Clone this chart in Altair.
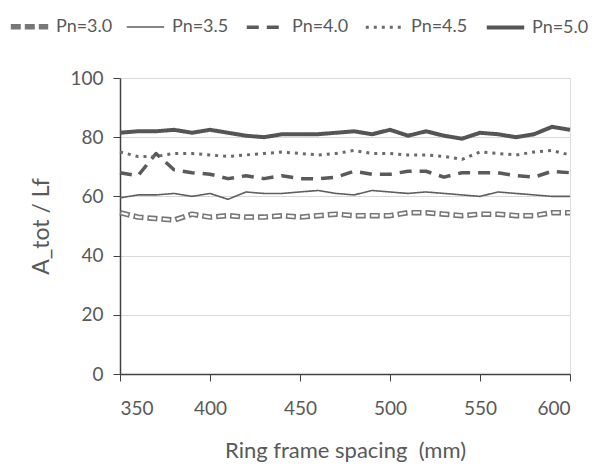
import altair as alt
import pandas as pd

spacing = list(range(350, 601, 10))
pn30 = [54.5, 53, 52.5, 52, 54, 53, 53.5, 53, 53, 53.5, 53, 53.5, 54, 53.5, 53.5, 53.5, 54.5, 54.5, 54, 53.5, 54, 54, 53.5, 53.5, 54.5, 54.5]
pn35 = [59.5, 60.5, 60.5, 61, 60, 61, 59, 61.5, 61, 61, 61.5, 62, 61, 60.5, 62, 61.5, 61, 61.5, 61, 60.5, 60, 61.5, 61, 60.5, 60, 60]
pn40 = [68, 67, 74.5, 69, 68, 67.5, 66, 67, 66, 67, 66, 66, 66.5, 68.5, 67.5, 67.5, 68.5, 68.5, 66.5, 68, 68, 68, 67, 66.5, 68.5, 68]
pn45 = [75, 73.5, 73.5, 74.5, 74.5, 74, 73.5, 74, 74.5, 75, 74.5, 74, 74.5, 75.5, 74.5, 74.5, 74, 74, 73.5, 72.5, 75, 74.5, 74, 75, 75.5, 74]
pn50 = [81.5, 82, 82, 82.5, 81.5, 82.5, 81.5, 80.5, 80, 81, 81, 81, 81.5, 82, 81, 82.5, 80.5, 82, 80.5, 79.5, 81.5, 81, 80, 81, 83.5, 82.5]

series_names = ["Pn=3.0", "Pn=3.5", "Pn=4.0", "Pn=4.5", "Pn=5.0"]
series_values = [pn30, pn35, pn40, pn45, pn50]

rows = []
for name, vals in zip(series_names, series_values):
    for x, v in zip(spacing, vals):
        rows.append({"spacing": x, "value": v, "series": name})
df = pd.DataFrame(rows)

font = "Lato"
txt = "#595959"

x_enc = alt.X("spacing:Q", scale=alt.Scale(domain=[350, 600], nice=False),
              axis=alt.Axis(values=[350, 400, 450, 500, 550, 600], title="Ring frame spacing\u00a0 (mm)",
                            grid=False, domainColor="#404040", domainWidth=1.5, tickColor="#404040",
                            tickSize=7, labelFontSize=19, labelColor=txt, labelFont=font, labelPadding=18,
                            titleFont=font, titleFontSize=22, titleColor=txt, titleFontWeight="normal",
                            titlePadding=22))
y_enc = alt.Y("value:Q", scale=alt.Scale(domain=[0, 100], nice=False),
              axis=alt.Axis(values=[0, 20, 40, 60, 80, 100], title="A_tot / Lf",
                            grid=True, gridColor="#d9d9d9", domainColor="#404040", domainWidth=1.5,
                            tickColor="#404040", tickSize=7, labelFontSize=19, labelColor=txt,
                            labelFont=font, labelPadding=10, titleFont=font, titleFontSize=23,
                            titleColor=txt, titleFontWeight="normal", titlePadding=16))

base = alt.Chart(df).mark_line(strokeCap="butt", strokeJoin="round").encode(
    x=x_enc,
    y=y_enc,
    color=alt.Color("series:N", scale=alt.Scale(domain=series_names,
                    range=["#777777", "#5f5f5f", "#5a5a5a", "#6a6a6a", "#555555"]),
                    legend=alt.Legend(title=None, orient="none", legendX=-112, legendY=-73,
                                      direction="horizontal", columns=5, symbolType="stroke",
                                      symbolSize=1400, labelFontSize=18, labelFont=font,
                                      labelColor=txt, columnPadding=10, labelOffset=5)),
    strokeDash=alt.StrokeDash("series:N", scale=alt.Scale(type="ordinal", domain=series_names,
                              range=[[10, 4], [1, 0], [12, 8], [3, 5], [1, 0]])),
    strokeWidth=alt.StrokeWidth("series:N", scale=alt.Scale(type="ordinal", domain=series_names,
                                range=[5.5, 1.6, 3.5, 3, 4])),
)

inner = alt.Chart(df[df["series"] == "Pn=3.0"]).mark_line(
    color="white", strokeWidth=2.2, strokeDash=[7, 7], strokeDashOffset=-1.5, strokeCap="butt"
).encode(x="spacing:Q", y="value:Q")

chart = alt.layer(base, inner).properties(
    width=450, height=296,
    padding={"left": 120, "top": 78, "right": 33, "bottom": 93},
    autosize=alt.AutoSizeParams(type="none"),
).configure_view(stroke=None).configure(background="white")

chart.save("out.html", embed_options={"renderer": "svg", "actions": False})
